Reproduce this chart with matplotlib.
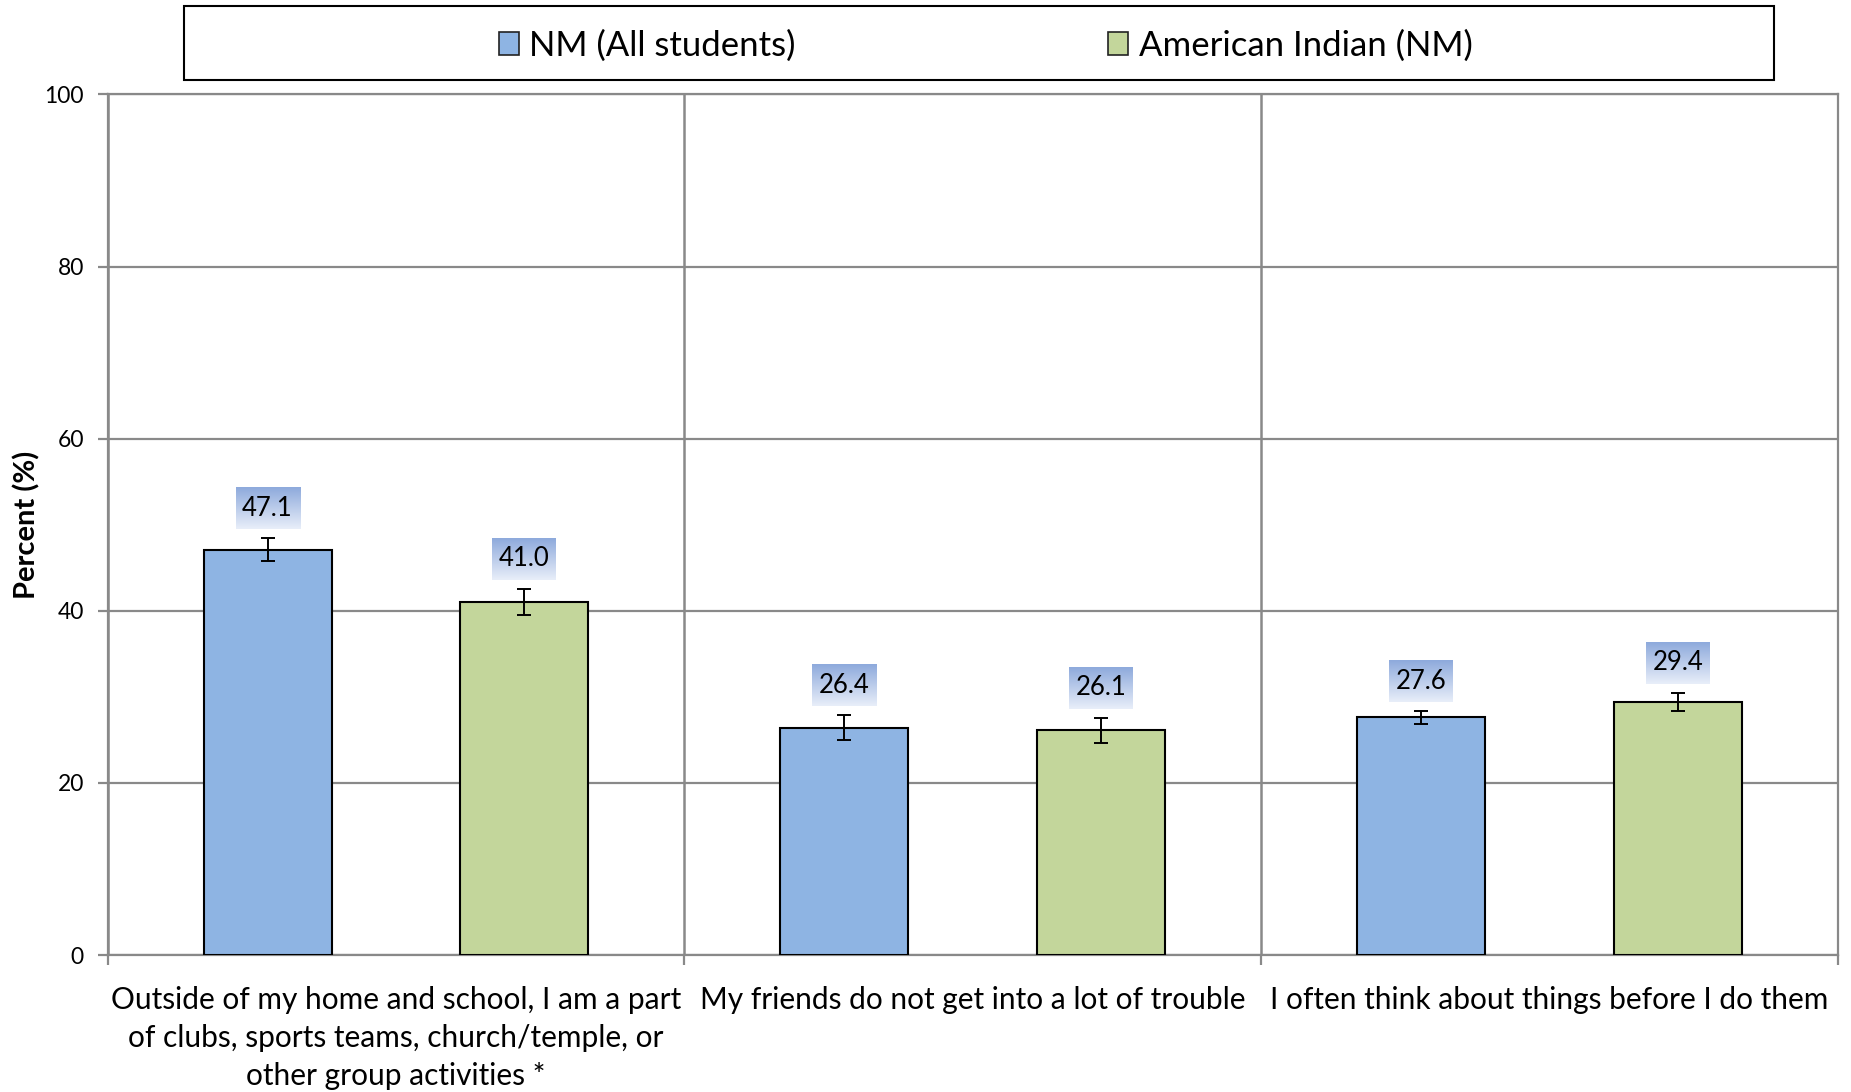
import numpy as np
import matplotlib
matplotlib.use("Agg")
import matplotlib.pyplot as plt
from matplotlib.patches import Rectangle, Patch

plt.rcParams['font.family'] = ['Lato', 'DejaVu Sans']

categories = ["Outside of my home and school, I am a part\nof clubs, sports teams, church/temple, or\nother group activities *",
              "My friends do not get into a lot of trouble",
              "I often think about things before I do them"]
series = ["NM (All students)", "American Indian (NM)"]
nm_all = [47.1, 26.4, 27.6]
nm_all_err = [1.3, 1.45, 0.75]
am_ind = [41.0, 26.1, 29.4]
am_ind_err = [1.55, 1.45, 1.1]
yticks = [0, 20, 40, 60, 80, 100]

BLUE = "#8EB4E3"; GREEN = "#C3D69B"; GRID = "#898989"
W, H, DPI = 1851, 1092, 100
fig = plt.figure(figsize=(W/DPI, H/DPI), dpi=DPI)
ax = fig.add_axes([107.5/W, 1-955/H, (1838-107.5)/W, (955-94.4)/H])

x = np.arange(len(categories))
bw = 0.222; off = 0.2225
vals = [nm_all, am_ind]; errs = [nm_all_err, am_ind_err]; cols = [BLUE, GREEN]
for i in range(2):
    xs = x + (-off if i == 0 else off)
    ax.bar(xs, vals[i], bw, color=cols[i], edgecolor='black', linewidth=1.5, zorder=3)
    ax.errorbar(xs, vals[i], yerr=errs[i], fmt='none', ecolor='black',
                elinewidth=1.4, capsize=4.8, capthick=1.4, zorder=4)

ax.set_xlim(-0.5, 2.5); ax.set_ylim(0, 100)
ax.set_yticks(yticks)
ax.set_xticks(x); ax.set_xticklabels(categories, fontsize=21.5, linespacing=1.44)
ax.set_xticks([-0.5, 0.5, 1.5, 2.5], minor=True)
ax.tick_params(axis='x', which='major', length=0, pad=22)
ax.tick_params(axis='x', which='minor', length=7, width=1.6, color=GRID)
ax.tick_params(axis='y', length=7, width=1.6, color=GRID, labelsize=16.5, pad=10)
ax.grid(axis='y', which='major', color=GRID, lw=1.6, zorder=0)
ax.grid(axis='x', which='minor', color=GRID, lw=1.8, zorder=0)
for s in ax.spines.values():
    s.set_color(GRID); s.set_linewidth(1.6)
ax.set_ylabel("Percent (%)", fontsize=21, fontweight='bold', labelpad=3)

# gradient label boxes
grad = np.linspace(0, 1, 64)[:, None, None]
top_c = np.array([142, 170, 220]) / 255; bot_c = np.array([232, 238, 249]) / 255
img = top_c * (1 - grad) + bot_c * grad
inv = ax.transData.inverted()
for i in range(2):
    xs = x + (-off if i == 0 else off)
    for xi, v, e in zip(xs, vals[i], errs[i]):
        px, py = ax.transData.transform((xi, v + e))
        b0 = py + 9; b1 = b0 + 42
        (x0, y0) = inv.transform((px - 32, b0)); (x1, y1) = inv.transform((px + 32, b1))
        ax.imshow(img, extent=(x0, x1, y0, y1), aspect='auto', zorder=5, interpolation='bilinear')
        ax.text(xi, (y0 + y1) / 2, f"{v:.1f}", ha='center', va='center', fontsize=18.5, zorder=6)
ax.set_xlim(-0.5, 2.5); ax.set_ylim(0, 100)

# legend
fig.patches.append(Rectangle((184/W, 1-80/H), 1590/W, 74/H, transform=fig.transFigure,
                             facecolor='white', edgecolor='black', lw=1.5))
handles = [Patch(facecolor=BLUE, edgecolor='#222222', lw=1.2),
           Patch(facecolor=GREEN, edgecolor='#222222', lw=1.2)]
fig.legend(handles, series, loc='center', bbox_to_anchor=(985.5/W, 1-45.5/H), ncol=2,
           frameon=False, fontsize=25, handlelength=0.58, handleheight=0.65,
           handletextpad=0.3, columnspacing=9.0)

fig.savefig("out.png", dpi=DPI)
